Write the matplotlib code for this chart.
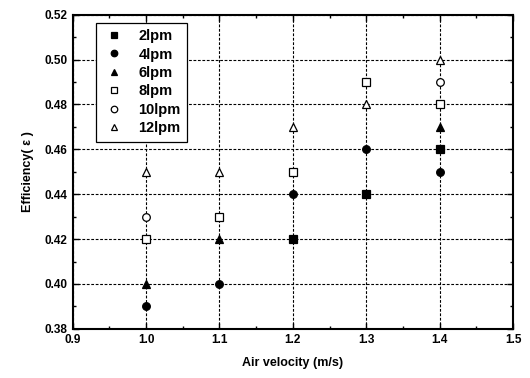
import numpy as np
import matplotlib.pyplot as plt
from matplotlib.ticker import MultipleLocator

plt.rcParams['font.family'] = ['Liberation Sans', 'DejaVu Sans']
plt.rcParams['font.weight'] = 'bold'

velocity = [1.0, 1.1, 1.2, 1.3, 1.4]
labels = ['2lpm', '4lpm', '6lpm', '8lpm', '10lpm', '12lpm']
# nan = point hidden behind another marker in the original
eff_2 = [np.nan, np.nan, 0.42, 0.44, 0.46]
eff_4 = [0.39, 0.40, 0.44, 0.46, 0.45]
eff_6 = [0.40, 0.42, np.nan, np.nan, 0.47]
eff_8 = [0.42, 0.43, 0.45, 0.49, 0.48]
eff_10 = [0.43, np.nan, np.nan, np.nan, 0.49]
eff_12 = [0.45, 0.45, 0.47, 0.48, 0.50]

series = [eff_2, eff_4, eff_6, eff_8, eff_10, eff_12]
markers = ['s', 'o', '^', 's', 'o', '^']
filled = [True, True, True, False, False, False]

fig = plt.figure(figsize=(5.3, 3.78), dpi=100)
ax = fig.add_axes([0.137, 0.130, 0.831, 0.831])

for y, lab, m, f in zip(series, labels, markers, filled):
    ax.plot(velocity, y, linestyle='none', marker=m, markersize=5.5,
            markerfacecolor='black' if f else 'white',
            markeredgecolor='black', markeredgewidth=0.9, label=lab)

ax.set_xlim(0.9, 1.5)
ax.set_ylim(0.38, 0.52)
ax.xaxis.set_major_locator(MultipleLocator(0.1))
ax.xaxis.set_minor_locator(MultipleLocator(0.05))
ax.yaxis.set_major_locator(MultipleLocator(0.02))
ax.yaxis.set_minor_locator(MultipleLocator(0.01))
ax.xaxis.set_major_formatter(plt.FormatStrFormatter('%.1f'))
ax.yaxis.set_major_formatter(plt.FormatStrFormatter('%.2f'))

ax.tick_params(which='both', direction='in', top=True, right=True, labelsize=8.5)
ax.tick_params(which='major', length=4, width=1)
ax.tick_params(which='minor', length=2.5, width=1)
for s in ax.spines.values():
    s.set_linewidth(1.5)

ax.grid(True, which='major', color='black', linestyle=(0, (2.5, 1.5)), linewidth=0.8)
ax.set_axisbelow(True)

ax.set_xlabel('Air velocity (m/s)', fontsize=9, fontweight='bold', labelpad=8)
ax.set_ylabel('Efficiency( ε )', fontsize=9, fontweight='bold', labelpad=8)

leg = ax.legend(loc='upper left', bbox_to_anchor=(0.052, 0.975), borderaxespad=0,
                fontsize=10.5, frameon=True, fancybox=False, edgecolor='black',
                markerscale=0.85, handlelength=1.6, handletextpad=0.9,
                labelspacing=0.3, borderpad=0.45)
leg.get_frame().set_linewidth(0.9)
leg.get_frame().set_alpha(1)

fig.savefig('out.png', dpi=100)
